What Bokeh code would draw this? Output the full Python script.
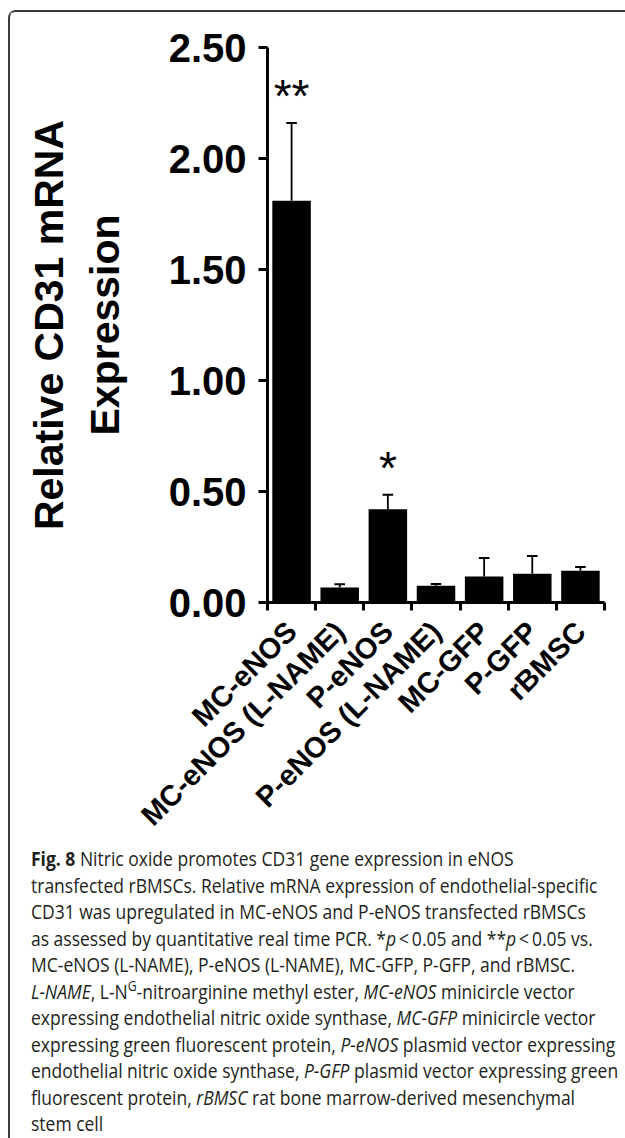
import math
from bokeh.plotting import figure
from bokeh.models import Range1d, FixedTicker, PrintfTickFormatter, Div
from bokeh.layouts import column
from bokeh.embed import file_html
from bokeh.resources import INLINE
from bokeh.core.properties import value

# ---------------- data ----------------
categories = ["MC-eNOS", "MC-eNOS (L-NAME)", "P-eNOS", "P-eNOS (L-NAME)",
              "MC-GFP", "P-GFP", "rBMSC"]
means = [1.81, 0.068, 0.42, 0.075, 0.117, 0.13, 0.143]
err_upper = [2.16, 0.082, 0.485, 0.083, 0.20, 0.21, 0.16]
significance = ["**", "", "*", "", "", "", ""]
y_ticks = [0.0, 0.5, 1.0, 1.5, 2.0, 2.5]
y_label = "Relative CD31 mRNA\nExpression"

caption_lines = [
    "<b>Fig. 8</b> Nitric oxide promotes CD31 gene expression in eNOS",
    "transfected rBMSCs. Relative mRNA expression of endothelial-specific",
    "CD31 was upregulated in MC-eNOS and P-eNOS transfected rBMSCs",
    "as assessed by quantitative real time PCR. *<i>p</i>&thinsp;&lt;&thinsp;0.05 and **<i>p</i>&thinsp;&lt;&thinsp;0.05 vs.",
    "MC-eNOS (L-NAME), P-eNOS (L-NAME), MC-GFP, P-GFP, and rBMSC.",
    "<i>L-NAME</i>, L-N<sup style='font-size:70%;line-height:0'>G</sup>-nitroarginine methyl ester, <i>MC-eNOS</i> minicircle vector",
    "expressing endothelial nitric oxide synthase, <i>MC-GFP</i> minicircle vector",
    "expressing green fluorescent protein, <i>P-eNOS</i> plasmid vector expressing",
    "endothelial nitric oxide synthase, <i>P-GFP</i> plasmid vector expressing green",
    "fluorescent protein, <i>rBMSC</i> rat bone marrow-derived mesenchymal",
    "stem cell",
]

# ---------------- figure ----------------
n = len(categories)
xs = [i + 0.5 for i in range(n)]
FONT = "Liberation Sans"

p = figure(width=615, height=833, x_range=Range1d(0, n), y_range=Range1d(0, 2.5),
           output_backend="svg", toolbar_location=None,
           min_border_left=257, min_border_right=21, min_border_top=35,
           min_border_bottom=243)
p.outline_line_color = None
p.xgrid.visible = False
p.ygrid.visible = False
p.background_fill_color = "white"
p.border_fill_color = "white"

p.vbar(x=xs, top=means, bottom=0, width=0.8, fill_color="black", line_color=None)
p.segment(x0=xs, y0=means, x1=xs, y1=err_upper, line_color="black", line_width=1.8)
p.segment(x0=[x - 0.11 for x in xs], y0=err_upper, x1=[x + 0.11 for x in xs],
          y1=err_upper, line_color="black", line_width=2)

sx = [x for x, s in zip(xs, significance) if s]
sy = [e + 0.12 for e, s in zip(err_upper, significance) if s]
st = [s for s in significance if s]
p.text(x=sx, y=sy, text=st, text_font=value(FONT), text_font_size="46px",
       text_align="center", text_baseline="middle", text_color="black")

# y axis
ya = p.yaxis[0]
ya.ticker = FixedTicker(ticks=y_ticks, minor_ticks=[])
ya.formatter = PrintfTickFormatter(format="%.2f")
ya.axis_line_width = 3
ya.axis_line_color = "black"
ya.major_tick_line_width = 3
ya.major_tick_out = 9
ya.major_tick_in = 0
ya.minor_tick_out = 0
ya.minor_tick_in = 0
ya.major_label_text_font = FONT
ya.major_label_text_font_style = "bold"
ya.major_label_text_font_size = "40px"
ya.major_label_text_color = "black"
ya.major_label_standoff = 12
ya.axis_label = y_label
ya.axis_label_text_font = FONT
ya.axis_label_text_font_style = "bold"
ya.axis_label_text_font_size = "41px"
ya.axis_label_text_color = "black"
ya.axis_label_standoff = 38

# x axis: boundary ticks (minor) + category labels at centres
xa = p.xaxis[0]
xa.ticker = FixedTicker(ticks=xs, minor_ticks=list(range(n + 1)))
xa.major_label_overrides = {x: c for x, c in zip(xs, categories)}
xa.axis_line_width = 3
xa.axis_line_color = "black"
xa.major_tick_out = 0
xa.major_tick_in = 0
xa.minor_tick_out = 8
xa.minor_tick_in = 0
xa.minor_tick_line_width = 3
xa.minor_tick_line_color = "black"
xa.major_label_orientation = math.pi / 4
xa.major_label_text_font = FONT
xa.major_label_text_font_style = "bold"
xa.major_label_text_font_size = "29px"
xa.major_label_text_color = "black"
xa.major_label_standoff = 16

# ---------------- caption ----------------
html = ("<div style=\"padding-left:16px;position:relative;top:-4px;\">"
        "<div style=\"font-family:'Open Sans';font-size:20px;line-height:26.5px;"
        "color:#231f20;white-space:nowrap;transform:scaleX(0.875);transform-origin:0 0;\">"
        + "<br>".join(caption_lines) + "</div></div>")
cap = Div(text=html, width=615, height=291, styles={"overflow": "visible"})

layout = column(p, cap, styles={"margin-left": "8px",
                                "margin-top": "10px",
                                "border-left": "2px solid #3a3a3a",
                                "border-top": "2px solid #3a3a3a",
                                "border-top-left-radius": "8px"})

open("out.html", "w").write(file_html(layout, INLINE))
